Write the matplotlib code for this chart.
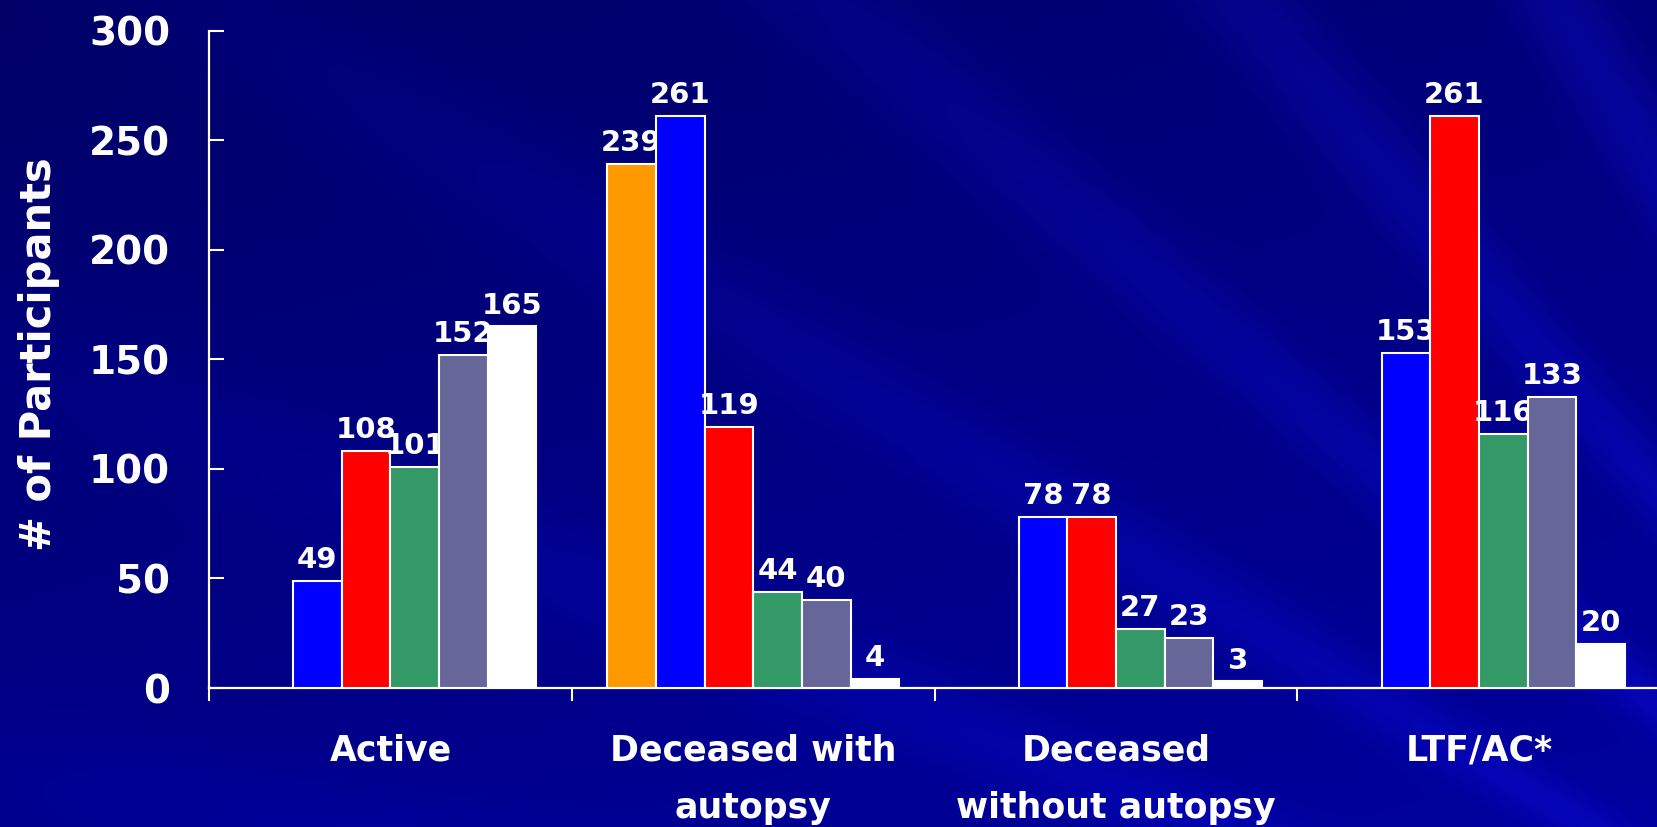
"""
Participant status by category: grouped bars (6 series per group) on a
dark-blue slide-style background.
"""

import numpy as np
import matplotlib
matplotlib.use("Agg")
import matplotlib.pyplot as plt

# ─────────────────────────────────────────────────────────────────────
# Data. None = no bar in that slot.
# ─────────────────────────────────────────────────────────────────────
CATEGORIES = ["Active", "Deceased with\nautopsy",
              "Deceased\nwithout autopsy", "LTF/AC*"]

ORANGE = [None, 239, None, None]
BLUE   = [49, 261, 78, 153]
RED    = [108, 119, 78, 261]
GREEN  = [101, 44, 27, 116]
SLATE  = [152, 40, 23, 133]
WHITE  = [165, 4, 3, 20]

SERIES = [ORANGE, BLUE, RED, GREEN, SLATE, WHITE]
COLORS = ["#FF9900", "#0000FF", "#FF0000", "#339966", "#666699", "#FFFFFF"]

Y_TICKS = [0, 50, 100, 150, 200, 250, 300]
Y_LABEL = "# of Participants"

W_PX, H_PX, DPI = 1657, 827, 100


def slide_background(h, w):
    """Navy backdrop with faint rays fanning from the lower right."""
    yy, xx = np.mgrid[0:h, 0:w].astype(float)
    ang = np.arctan2(1250 - yy, 2300 - xx)
    rays = 0.5 + 0.5 * np.sin(ang * 38.0)
    rays = rays ** 3
    # darker towards the top-left corner
    shade = 0.40 + 0.14 * (yy / h) + 0.08 * (xx / w)
    blue = np.clip(shade + 0.08 * rays * (xx / w + 0.4), 0, 1)
    red = np.clip(0.02 * rays * (xx / w), 0, 1)
    img = np.dstack([red, red, blue])
    return img


def main() -> None:
    plt.rcParams["font.family"] = ["DejaVu Sans"]
    plt.rcParams["font.weight"] = "bold"

    fig = plt.figure(figsize=(W_PX / DPI, H_PX / DPI), dpi=DPI)

    # ── background ───────────────────────────────────────────────────
    bg = fig.add_axes([0, 0, 1, 1], zorder=-1)
    bg.imshow(slide_background(H_PX, W_PX), aspect="auto",
              interpolation="bilinear")
    bg.axis("off")

    # ── bars ─────────────────────────────────────────────────────────
    ax = fig.add_axes([209 / W_PX, 0.168, 1.002 - 209 / W_PX, 0.963 - 0.168])
    ax.set_facecolor("none")

    n = len(SERIES)
    width = 0.805 / n
    x = np.arange(len(CATEGORIES))

    for i, (vals, color) in enumerate(zip(SERIES, COLORS)):
        keep = [j for j, v in enumerate(vals) if v is not None]
        xs = x[keep] + (i - (n - 1) / 2) * width
        hs = [vals[j] for j in keep]
        bars = ax.bar(xs, hs, width=width, color=color,
                      edgecolor="white", linewidth=1.5, zorder=3)
        ax.bar_label(bars, fmt="%d", padding=5, color="white",
                     fontsize=21, fontweight="bold")

    # ── axes styling ─────────────────────────────────────────────────
    ax.set_xlim(-0.5, len(CATEGORIES) - 0.5)
    ax.set_ylim(0, 300)
    ax.set_yticks(Y_TICKS)

    for side in ("top", "right"):
        ax.spines[side].set_visible(False)
    for side in ("left", "bottom"):
        ax.spines[side].set_color("white")
        ax.spines[side].set_linewidth(1.6)

    ax.tick_params(axis="y", direction="in", length=11, width=1.5,
                   colors="white", labelsize=28, pad=28)

    ax.set_xticks(x)
    ax.set_xticklabels(CATEGORIES, fontsize=25, fontweight="bold",
                       color="white", linespacing=1.85)
    ax.set_xticks(np.arange(len(CATEGORIES) + 1) - 0.5, minor=True)
    ax.tick_params(axis="x", which="major", length=0, pad=33)
    ax.tick_params(axis="x", which="minor", direction="out", length=9.5,
                   width=1.5, color="white")

    fig.text(39 / W_PX, 1 - 354 / H_PX, Y_LABEL, rotation=90,
             ha="center", va="center", color="white",
             fontsize=30, fontweight="bold")

    fig.savefig("out.png", dpi=DPI)
    plt.close(fig)


if __name__ == "__main__":
    main()
